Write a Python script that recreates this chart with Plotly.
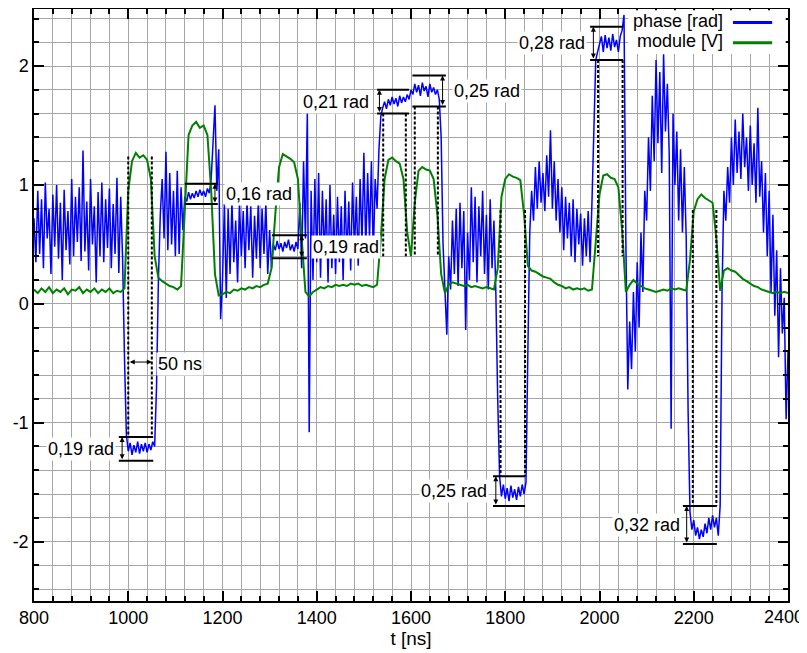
import plotly.graph_objects as go

# ---------------- data ----------------
# phase [rad], sampled every 4 ns from 800 to 2400 ns (rows of 100 ns)
phase_rows = [
    [0.72, 0.35, 0.95, 0.42, 0.88, 0.30, 1.02, 0.55, 0.80, 0.25, 0.92, 0.48, 1.00, 0.38, 0.85, 0.20, 0.96, 0.45, 0.78, 0.33, 1.05, 0.40, 0.90, 0.52, 0.98],
    [0.36, 1.29, 0.44, 0.86, 0.28, 1.05, 0.50, 0.82, 0.18, 0.94, 0.40, 1.02, 0.35, 0.88, 0.47, 0.97, 0.30, 0.84, 0.42, 1.06, 0.26, 0.90, 0.38, -0.45, -1.10],
    [-1.24, -1.17, -1.27, -1.19, -1.25, -1.16, -1.26, -1.18, -1.24, -1.17, -1.25, -1.18, -1.23, -1.16, -1.20, -0.70, 0.20, 0.75, 1.05, 0.55, 1.28, 0.45, 1.10, 0.50, 0.95],
    [0.40, 1.12, 0.42, 0.98, 0.62, 0.90, 0.86, 0.94, 0.88, 0.93, 0.89, 0.95, 0.90, 0.96, 0.91, 0.95, 0.90, 0.97, 0.93, 1.05, 1.35, 1.67, 0.95, 1.30, -0.13],
    [0.20, 0.84, 0.05, 0.80, 0.25, 0.86, 0.35, 0.70, 0.18, 0.85, 0.40, 0.78, 0.30, 0.86, 0.45, 0.82, 0.22, 0.74, 0.38, 0.86, 0.30, 0.80, 0.42, 0.85, 0.25],
    [0.62, 0.30, 0.50, 0.45, 0.53, 0.46, 0.51, 0.44, 0.52, 0.47, 0.54, 0.45, 0.50, 0.44, 0.52, 0.46, 0.85, 0.30, 1.20, 0.55, 1.62, -1.08, 0.95, 0.20, 1.05],
    [0.35, 1.10, 0.22, 0.95, 0.40, 0.88, 0.18, 1.00, 0.30, 0.75, 0.25, 0.90, 0.35, 0.82, 0.20, 0.95, 0.40, 0.86, 0.28, 1.02, 0.45, 0.90, 0.32, 1.05, 0.50],
    [1.27, 0.45, 1.10, 0.55, 1.20, 0.40, 1.05, 0.80, 1.30, 1.58, 1.65, 1.70, 1.64, 1.72, 1.67, 1.74, 1.68, 1.73, 1.66, 1.75, 1.69, 1.74, 1.70, 1.76, 1.72],
    [1.80, 1.76, 1.85, 1.78, 1.84, 1.75, 1.86, 1.79, 1.83, 1.74, 1.85, 1.78, 1.82, 1.76, 1.80, 1.72, 1.40, 0.50, 0.10, -0.26, 0.40, 0.12, 0.70, 0.25, 0.80],
    [0.15, 0.85, 0.30, 0.78, -0.22, 0.60, 0.20, 0.98, 0.35, 0.90, 0.18, 0.82, 0.40, 0.95, 0.25, 0.75, 0.12, 0.88, 0.30, 0.70, 0.10, -0.80, -1.45, -1.62, -1.52],
    [-1.64, -1.55, -1.66, -1.53, -1.63, -1.56, -1.65, -1.54, -1.62, -1.52, -1.60, -1.50, -0.40, 0.60, 0.95, 0.70, 1.15, 0.80, 1.20, 0.85, 1.10, 0.78, 1.25, 0.90, 1.46],
    [0.80, 1.20, 0.70, 1.05, 0.60, 0.98, 0.45, 0.90, 0.55, 0.85, 0.40, 0.88, 0.35, 0.80, 0.50, 0.76, 0.32, 0.72, 0.40, 0.78, 0.35, 0.85, 1.50, 2.05, 2.12],
    [2.18, 2.25, 2.12, 2.26, 2.15, 2.24, 2.13, 2.27, 2.16, 2.22, 2.12, 2.25, 2.30, 2.43, 0.50, -0.72, -0.15, -0.55, 0.10, -0.40, 0.35, -0.20, 0.60, 0.10, 0.95],
    [0.70, 1.40, 0.95, 1.75, 1.20, 2.05, 1.35, 1.95, 1.10, 2.10, 1.45, 1.85, 1.25, -1.05, 1.60, 1.00, 1.45, 0.70, 1.30, 0.60, 1.15, 0.55, -0.90, -1.75, -1.90],
    [-1.82, -1.95, -1.88, -1.98, -1.90, -1.96, -1.85, -1.93, -1.80, -1.90, -1.78, -1.88, -1.80, -1.95, -1.70, 0.10, 0.95, 0.70, 1.15, 0.85, 1.40, 1.00, 1.55, 1.10, 1.45],
    [1.05, 1.60, 1.15, 1.40, 0.95, 1.50, 1.00, 1.35, 0.85, 1.65, 0.90, 1.20, 0.60, 1.10, 0.40, 0.95, 0.10, 0.75, -0.10, 0.45, -0.45, 0.30, -0.25, 0.05, -0.97],
    [-0.40],
]
phase_step = 4

# module [V], sampled every 8 ns from 800 to 2400 ns (rows of 200 ns)
module_rows = [
    [0.12, 0.09, 0.13, 0.10, 0.14, 0.09, 0.12, 0.10, 0.13, 0.08, 0.12, 0.11, 0.14, 0.09, 0.12, 0.10, 0.13, 0.09, 0.12, 0.10, 0.13, 0.09, 0.11, 0.10, 0.13],
    [0.95, 1.20, 1.27, 1.23, 1.25, 1.21, 1.05, 0.40, 0.22, 0.19, 0.17, 0.15, 0.14, 0.12, 0.15, 0.85, 1.42, 1.50, 1.53, 1.48, 1.50, 1.42, 0.95, 0.25, 0.07],
    [0.08, 0.10, 0.09, 0.12, 0.11, 0.13, 0.12, 0.14, 0.13, 0.15, 0.14, 0.16, 0.17, 0.30, 0.75, 1.15, 1.26, 1.24, 1.22, 1.19, 1.05, 0.55, 0.10, 0.06, 0.10],
    [0.12, 0.14, 0.13, 0.15, 0.14, 0.16, 0.15, 0.16, 0.15, 0.17, 0.16, 0.17, 0.15, 0.16, 0.15, 0.14, 0.16, 0.55, 1.05, 1.21, 1.23, 1.20, 1.18, 1.05, 0.60],
    [0.40, 0.85, 1.12, 1.15, 1.13, 1.12, 1.05, 0.75, 0.25, 0.09, 0.16, 0.18, 0.17, 0.16, 0.15, 0.16, 0.14, 0.15, 0.14, 0.13, 0.14, 0.13, 0.12, 0.30, 0.90],
    [1.05, 1.09, 1.07, 1.06, 1.04, 0.75, 0.32, 0.28, 0.27, 0.25, 0.23, 0.22, 0.21, 0.18, 0.16, 0.15, 0.13, 0.14, 0.12, 0.13, 0.12, 0.13, 0.11, 0.12, 0.55],
    [0.92, 1.08, 1.09, 1.06, 1.05, 0.98, 0.62, 0.10, 0.16, 0.20, 0.17, 0.15, 0.13, 0.12, 0.11, 0.10, 0.11, 0.12, 0.11, 0.13, 0.12, 0.13, 0.12, 0.11, 0.37],
    [0.78, 0.88, 0.92, 0.89, 0.87, 0.85, 0.55, 0.11, 0.28, 0.30, 0.28, 0.27, 0.24, 0.21, 0.19, 0.17, 0.15, 0.14, 0.12, 0.11, 0.10, 0.09, 0.10, 0.09, 0.10],
    [0.09],
]
module_step = 8
t_start = 800

x_ticks = [800, 1000, 1200, 1400, 1600, 1800, 2000, 2200, 2400]
y_ticks = [-2, -1, 0, 1, 2]

# annotation content: measured level differences
level_labels = ["0,19 rad", "0,16 rad", "0,19 rad", "0,21 rad", "0,25 rad", "0,25 rad", "0,28 rad", "0,32 rad"]
level_top = [-1.12, 1.01, 0.577, 1.80, 1.92, -1.45, 2.33, -1.70]
level_bot = [-1.32, 0.84, 0.384, 1.60, 1.66, -1.70, 2.05, -2.02]
level_t0 = [980, 1120, 1305, 1528, 1603, 1774, 1980, 2177]
level_t1 = [1053, 1190, 1379, 1596, 1674, 1842, 2050, 2249]
arrow_t = [987, 1184, 1368, 1533, 1667, 1780, 1987, 2185]
label_t = [974, 1203, 1387, 1516, 1686, 1766, 1973, 2174]
label_side = ["right", "left", "left", "right", "left", "right", "right", "right"]

# dashed pulse markers: (t, y_from, y_to)
pulse_t = [1000, 1050, 1541, 1589, 1608, 1657, 1790, 1842, 1997, 2049, 2198, 2248]
pulse_y0 = [1.24, 1.24, 1.60, 1.60, 1.66, 1.66, 0.79, 0.79, 2.05, 2.05, 0.79, 0.79]
pulse_y1 = [-1.12, -1.12, 0.40, 0.40, 0.40, 0.40, -1.45, -1.45, 0.40, 0.40, -1.70, -1.70]

width_label = "50 ns"
width_t0, width_t1, width_y = 1000, 1050, -0.49

# ---------------- build ----------------
phase_v = [v for row in phase_rows for v in row]
phase_t = [t_start + phase_step * i for i in range(len(phase_v))]
module_v = [v for row in module_rows for v in row]
module_t = [t_start + module_step * i for i in range(len(module_v))]

FONT = "Liberation Sans, Arial, sans-serif"
fig = go.Figure()
fig.add_trace(go.Scatter(x=phase_t, y=phase_v, mode="lines", name="phase [rad]",
                         line=dict(color="#0000ff", width=1.5)))
fig.add_trace(go.Scatter(x=module_t, y=module_v, mode="lines", name="module [V]",
                         line=dict(color="#008000", width=2)))

shapes = []
annotations = []
for t, y0, y1 in zip(pulse_t, pulse_y0, pulse_y1):
    shapes.append(dict(type="line", xref="x", yref="y", x0=t, x1=t, y0=y0, y1=y1,
                       line=dict(color="black", width=2, dash="3px,2px"), layer="above"))
for lab, yt, yb, t0, t1, ta, tl, side in zip(level_labels, level_top, level_bot, level_t0,
                                              level_t1, arrow_t, label_t, label_side):
    for yy in (yt, yb):
        shapes.append(dict(type="line", xref="x", yref="y", x0=t0, x1=t1, y0=yy, y1=yy,
                           line=dict(color="black", width=2), layer="above"))
    annotations.append(dict(x=ta, y=yt, ax=ta, ay=yb, xref="x", yref="y", axref="x", ayref="y",
                            text="", showarrow=True, arrowside="end+start", arrowhead=2,
                            arrowsize=1, arrowwidth=1, arrowcolor="black"))
    annotations.append(dict(x=tl, y=(yt + yb) / 2, xref="x", yref="y", text=lab, showarrow=False,
                            xanchor=side, yanchor="middle", bgcolor="white", borderpad=1,
                            font=dict(family=FONT, size=18, color="black")))
annotations.append(dict(x=width_t1, y=width_y, ax=width_t0, ay=width_y, xref="x", yref="y",
                        axref="x", ayref="y", text="", showarrow=True, arrowside="end+start",
                        arrowhead=2, arrowsize=1, arrowwidth=1, arrowcolor="black"))
annotations.append(dict(x=1059, y=width_y - 0.02, xref="x", yref="y", text=width_label,
                        showarrow=False, xanchor="left", yanchor="middle", bgcolor="white",
                        borderpad=1, font=dict(family=FONT, size=18, color="black")))

# last x tick label placed so it stays inside the page
annotations.append(dict(x=x_ticks[-1], y=0, xref="x", yref="paper", text=str(x_ticks[-1]),
                        showarrow=False, xanchor="right", yanchor="top", xshift=18, yshift=-4,
                        font=dict(family=FONT, size=18, color="black")))

# legend drawn manually (text then line sample)
shapes.append(dict(type="rect", xref="paper", yref="paper", x0=0.788, x1=0.997, y0=0.924, y1=0.998,
                   fillcolor="white", line=dict(width=0), layer="above"))
legend_items = [("phase [rad]", "#0000ff", 0.977), ("module [V]", "#008000", 0.943)]
for name, col, yp in legend_items:
    shapes.append(dict(type="line", xref="paper", yref="paper", x0=0.927, x1=0.979, y0=yp, y1=yp,
                       line=dict(color=col, width=3), layer="above"))
    annotations.append(dict(x=0.916, y=yp + 0.003, xref="paper", yref="paper", text=name,
                            showarrow=False, xanchor="right", yanchor="middle",
                            font=dict(family=FONT, size=18, color="black")))

axis_common = dict(showline=True, linecolor="black", linewidth=1.5, mirror="ticks",
                   ticks="inside", ticklen=10, tickwidth=1.5, tickcolor="black",
                   showgrid=True, gridcolor="#a6a6a6", gridwidth=1, zeroline=False,
                   tickfont=dict(family=FONT, size=18, color="black"))
fig.update_layout(
    width=799, height=645,
    margin=dict(l=26, r=19, t=1, b=52),
    paper_bgcolor="white", plot_bgcolor="white",
    showlegend=False,
    shapes=shapes, annotations=annotations,
    xaxis=dict(range=[800, 2400], tickvals=x_ticks,
               ticktext=[str(v) for v in x_ticks[:-1]] + [""],
               minor=dict(dtick=40, tick0=800, ticks="inside", ticklen=5, tickcolor="black",
                          showgrid=True, gridcolor="#a6a6a6", gridwidth=1),
               title=dict(text="t [ns]", font=dict(family=FONT, size=19, color="black"), standoff=4),
               automargin=False, **axis_common),
    yaxis=dict(range=[-2.5, 2.48], tickvals=y_ticks, ticktext=[str(v) for v in y_ticks],
               minor=dict(dtick=0.2, tick0=0, ticks="inside", ticklen=5, tickcolor="black",
                          showgrid=True, gridcolor="#a6a6a6", gridwidth=1),
               automargin=False, **axis_common),
)
fig.write_html("out.html")
